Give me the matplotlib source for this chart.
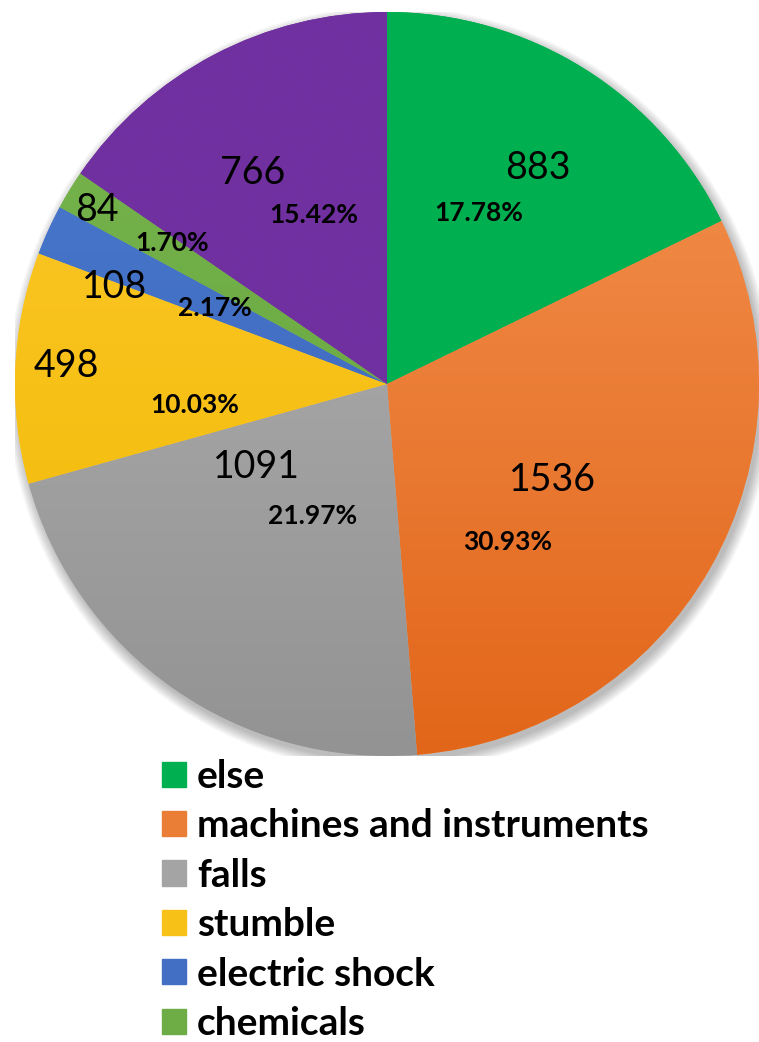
import numpy as np
import matplotlib.pyplot as plt
from matplotlib.colors import LinearSegmentedColormap
from matplotlib.patches import Circle

# accident causes (last slice has no legend row shown)
labels = ['else', 'machines and instruments', 'falls', 'stumble',
          'electric shock', 'chemicals', '']
counts = [883, 1536, 1091, 498, 108, 84, 766]
shares = [17.78, 30.93, 21.97, 10.03, 2.17, 1.70, 15.42]

# top / bottom shades for each slice fill
top_cols = ['#00B050', '#F49554', '#B4B4B4', '#FFCA30', '#4A7BD0', '#78B54F', '#7030A0']
bot_cols = ['#00B050', '#E2661A', '#939393', '#F0B800', '#3A62B6', '#63A23A', '#7030A0']

# label spots, in units of the pie radius
num_pos = [(0.406, 0.581), (0.444, -0.258), (-0.352, -0.223), (-0.863, 0.048),
           (-0.731, 0.261), (-0.780, 0.468), (-0.360, 0.567)]
pct_pos = [(0.247, 0.460), (0.323, -0.425), (-0.199, -0.355), (-0.516, -0.056),
           (-0.462, 0.204), (-0.578, 0.379), (-0.196, 0.454)]

plt.rcParams['font.family'] = ['Lato', 'DejaVu Sans']

fig = plt.figure(figsize=(7.59, 10.42), dpi=100)
ax = fig.add_axes([15/759, 1 - 756/1042, 744/759, 744/1042])

# soft drop shadow
for k in range(8):
    ax.add_patch(Circle((0.008, -0.014), 1.0 + 0.004*k, color='k',
                        alpha=0.035, lw=0, zorder=0))

wedges, _ = ax.pie(counts, startangle=90, counterclock=False, radius=1,
                   colors=top_cols, wedgeprops=dict(linewidth=0))

grad = np.linspace(0, 1, 256).reshape(-1, 1)
for w, ct, cb in zip(wedges, top_cols, bot_cols):
    w.set_zorder(1)
    cm = LinearSegmentedColormap.from_list('g', [cb, ct])
    im = ax.imshow(grad, cmap=cm, extent=(-1, 1, -1, 1), origin='lower',
                   aspect='auto', zorder=2)
    im.set_clip_path(w)

for v, s, (nx, ny), (px, py) in zip(counts, shares, num_pos, pct_pos):
    ax.text(nx, ny, str(v), ha='center', va='center', fontsize=27, zorder=5)
    ax.text(px, py, '%.2f%%' % s, ha='center', va='center',
            fontsize=19, fontweight='bold', zorder=5)

ax.set_xlim(-1, 1)
ax.set_ylim(-1, 1)
ax.set_aspect('equal')
ax.axis('off')

# legend handles get the mid shade of each slice
handles = []
for w, ct, cb in zip(wedges[:6], top_cols, bot_cols):
    p = plt.Rectangle((0, 0), 1, 1,
                      color=LinearSegmentedColormap.from_list('m', [cb, ct])(0.5))
    handles.append(p)
leg = fig.legend(handles, labels[:6], loc='upper left',
                 bbox_to_anchor=(162/759, 1 - 759/1042), frameon=False,
                 prop=dict(size=28, weight='bold'), handlelength=0.62,
                 handleheight=0.62, handletextpad=0.28, labelspacing=0.37,
                 borderpad=0, borderaxespad=0)

fig.savefig('out.png', dpi=100)
